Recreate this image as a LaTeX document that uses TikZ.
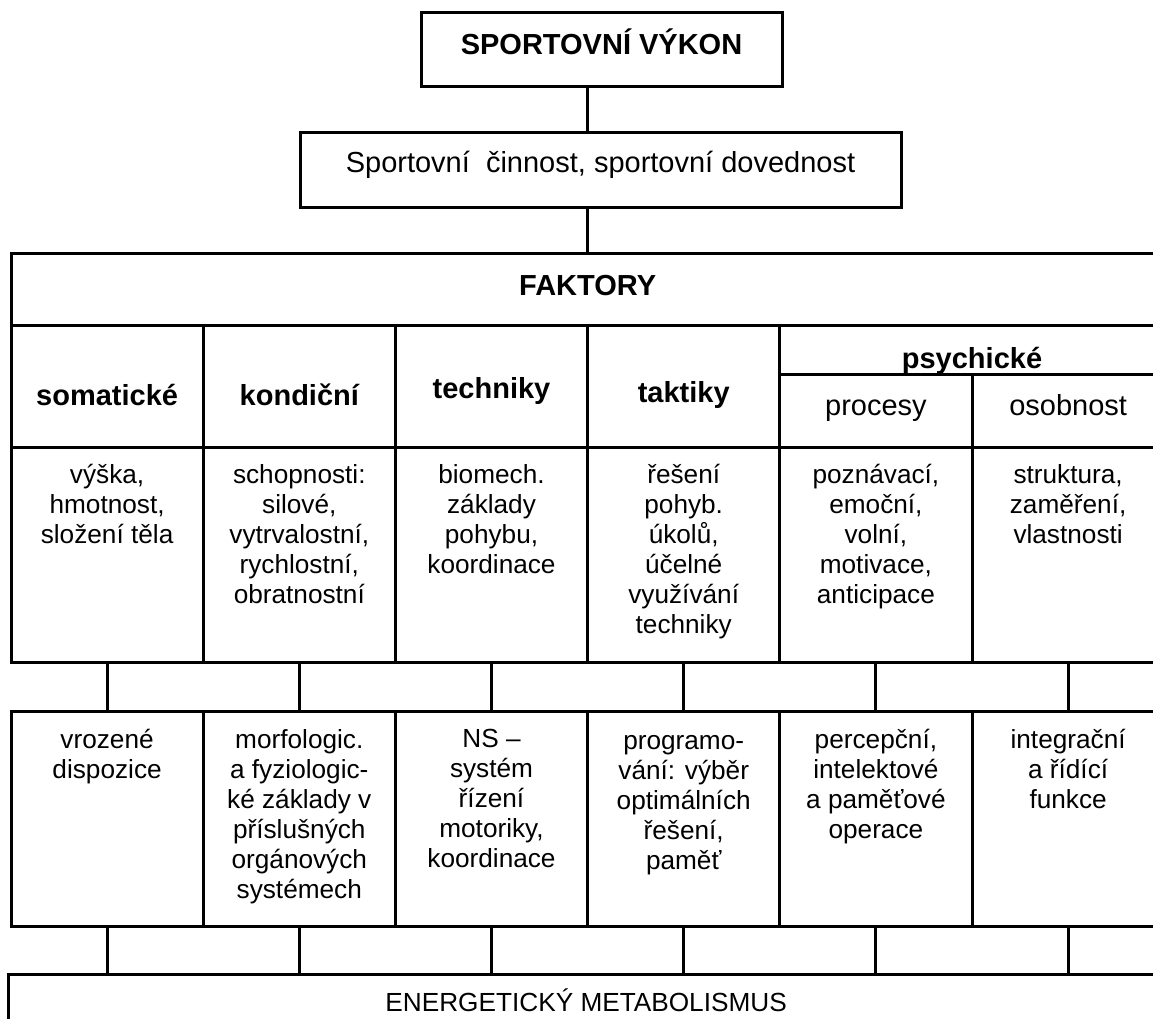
\documentclass[tikz,border=0pt]{standalone}
\usepackage{fontspec}
\setmainfont{Liberation Sans}
\usetikzlibrary{positioning}

\begin{document}
\begin{tikzpicture}[
    x=1pt, y=-1pt,
    line width=3pt,
    box/.style={rectangle, draw, outer sep=0pt, inner sep=0pt, anchor=north west},
    cell/.style={box, minimum width=192.2pt},
    hbig/.style={font=\fontsize{29pt}{30pt}\selectfont\bfseries},
    nbig/.style={font=\fontsize{29pt}{30pt}\selectfont},
    tb/.style={text height=21pt, text depth=#1},
    hd/.style={cell, hbig, minimum height=122pt, text height=40pt, text depth=#1},
    body/.style={font=\fontsize{26.2pt}{30pt}\selectfont, align=center, inner sep=0pt},
]
\useasboundingbox (0,0) rectangle (1153,1019);
\clip (0,0) rectangle (1153,1019);

% Top boxes
\node[box, hbig, tb=11pt, minimum width=361pt, minimum height=74pt] (vyk) at (421,13) {SPORTOVNÍ VÝKON};
\node[box, nbig, tb=15pt, minimum width=601pt, minimum height=74pt] (cin) at (300,133) {Sportovní\ \ činnost, sportovní dovednost};
\node[box, hbig, tb=9pt, minimum width=1153.2pt, minimum height=72pt] (fak) at (11,253) {FAKTORY};

% Factor headings
\node[hd=2pt] (hsom) at (11,325) {somatické};
\node[hd=2pt] (hkon) at (203.2,325) {kondiční};
\node[hd=16pt] (htec) at (395.4,325) {techniky};
\node[hd=8pt] (htak) at (587.6,325) {taktiky};
\node[box, hbig, text height=40pt, text depth=3pt, minimum width=384.4pt, minimum height=49pt] (hpsy) at (779.8,325) {psychické};
\node[cell, nbig, tb=12pt, minimum height=73pt] (hpro) at (779.8,374) {procesy};
\node[cell, nbig, tb=12pt, minimum height=73pt] (hoso) at (972,374) {osobnost};

% Factor contents
\node[cell, minimum height=215pt] (csom) at (11,447) {};
\node[cell, minimum height=215pt] (ckon) at (203.2,447) {};
\node[cell, minimum height=215pt] (ctec) at (395.4,447) {};
\node[cell, minimum height=215pt] (ctak) at (587.6,447) {};
\node[cell, minimum height=215pt] (cpro) at (779.8,447) {};
\node[cell, minimum height=215pt] (coso) at (972,447) {};
\node[body, below=16pt of csom.north] (tcsom) {výška,\\hmotnost,\\složení těla};
\node[body, below=16pt of ckon.north] (tckon) {schopnosti:\\silové,\\vytrvalostní,\\rychlostní,\\obratnostní};
\node[body, below=16pt of ctec.north] (tctec) {biomech.\\základy\\pohybu,\\koordinace};
\node[body, below=16pt of ctak.north] (tctak) {řešení\\pohyb.\\úkolů,\\účelné\\využívání\\techniky};
\node[body, below=16pt of cpro.north] (tcpro) {poznávací,\\emoční,\\volní,\\motivace,\\anticipace};
\node[body, below=16pt of coso.north] (tcoso) {struktura,\\zaměření,\\vlastnosti};

% Foundations
\node[cell, minimum height=215pt] (lsom) at (11,711) {};
\node[cell, minimum height=215pt] (lkon) at (203.2,711) {};
\node[cell, minimum height=215pt] (ltec) at (395.4,711) {};
\node[cell, minimum height=215pt] (ltak) at (587.6,711) {};
\node[cell, minimum height=215pt] (lpro) at (779.8,711) {};
\node[cell, minimum height=215pt] (loso) at (972,711) {};
\node[body, below=17pt of lsom.north] (tlsom) {vrozené\\dispozice};
\node[body, below=17pt of lkon.north] (tlkon) {morfologic.\\a fyziologic-\\ké základy v\\příslušných\\orgánových\\systémech};
\node[body, below=17pt of ltec.north] (tltec) {NS –\\systém\\řízení\\motoriky,\\koordinace};
\node[body, below=22.5pt of ltak.north] (tltak) {programo-\\vání: výběr\\optimálních\\řešení,\\paměť};
\node[body, below=17pt of lpro.north] (tlpro) {percepční,\\intelektové\\a paměťové\\operace};
\node[body, below=17pt of loso.north] (tloso) {integrační\\a řídící\\funkce};

\node[box, font=\fontsize{26.2pt}{30pt}\selectfont, text height=19pt, text depth=11pt, minimum width=1156.2pt, minimum height=66pt] (en) at (8,974) {ENERGETICKÝ METABOLISMUS};

% Links
\draw (vyk.south -| fak.north) -- (cin.north -| fak.north);
\draw (cin.south -| fak.north) -- (fak.north);
\draw (csom.south) -- (lsom.north) (ckon.south) -- (lkon.north) (ctec.south) -- (ltec.north)
  (ctak.south) -- (ltak.north) (cpro.south) -- (lpro.north) (coso.south) -- (loso.north);
\draw (lsom.south) -- (lsom.south |- en.north) (lkon.south) -- (lkon.south |- en.north)
  (ltec.south) -- (ltec.south |- en.north) (ltak.south) -- (ltak.south |- en.north)
  (lpro.south) -- (lpro.south |- en.north) (loso.south) -- (loso.south |- en.north);
\end{tikzpicture}
\end{document}
